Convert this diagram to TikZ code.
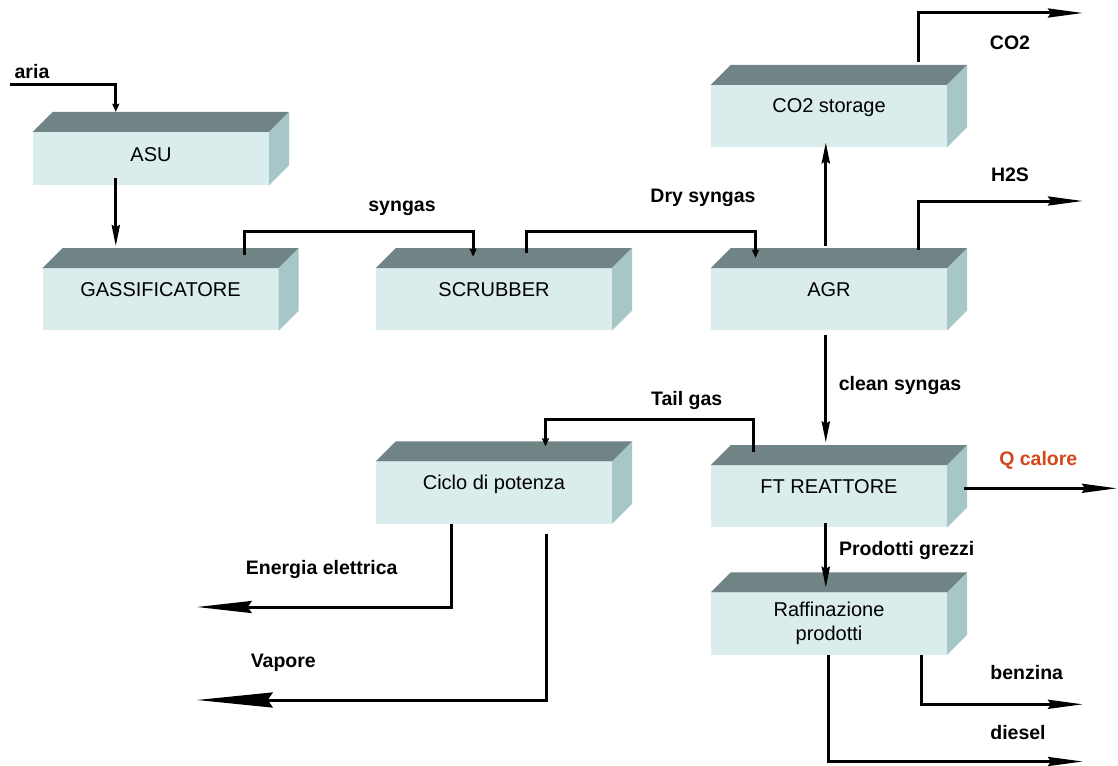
\documentclass[tikz,border=0pt]{standalone}
\usepackage{fontspec}
\setmainfont{Liberation Sans}
\usetikzlibrary{arrows.meta}

\definecolor{fronte}{HTML}{DAECEC}
\definecolor{tetto}{HTML}{708486}
\definecolor{fianco}{HTML}{A6C6C8}
\definecolor{calore}{HTML}{D4471A}

\tikzset{
    bloccobase/.style={rectangle, fill=fronte, minimum width=236pt, minimum height=62pt,
        inner sep=0pt, font=\fontsize{20}{24}\selectfont},
    blocco/.style={bloccobase, text height=14pt, text depth=20pt},
    etich/.style={font=\fontsize{19.5}{23}\selectfont\bfseries},
    flusso/.style={line width=3pt},
    tippiccola/.style={flusso, -{Stealth[length=8pt, width=7pt, inset=1pt]}},
    tipmedia/.style={flusso, -{Stealth[length=21pt, width=8pt, inset=2pt]}},
    tipuscita/.style={flusso, -{Stealth[length=35pt, width=9pt, inset=3pt]}},
    tipsx1/.style={flusso, -{Stealth[length=55pt, width=12pt, inset=4pt]}},
    tipsx2/.style={flusso, -{Stealth[length=76pt, width=15pt, inset=5pt]}}
}

\begin{document}
\begin{tikzpicture}[x=1pt, y=-1pt]
        \path[use as bounding box, fill=white] (0,0) rectangle (1118,765);

        % Blocchi
        \node[blocco, minimum height=53pt, text depth=9pt] (asu) at (151,158.5) {ASU};
        \node[blocco] (gass) at (160.5,299.4) {GASSIFICATORE};
        \node[blocco] (scrub) at (494,299.2) {SCRUBBER};
        \node[blocco] (agr) at (829,299.3) {AGR};
        \node[blocco] (co2st) at (829,116) {CO2 storage};
        \node[blocco] (ciclo) at (494,492.5) {Ciclo di potenza};
        \node[blocco] (ft) at (829,496.3) {FT REATTORE};
        \node[bloccobase, align=center] (raff) at (829,623.5) {\raisebox{-3pt}{Raffinazione}\\\raisebox{-3pt}{prodotti}};

        \foreach \b in {asu,gass,scrub,agr,co2st,ciclo,ft,raff}{
            \fill[tetto] (\b.north west) -- ++(20,-20) -- ([shift={(20,-20)}]\b.north east) -- (\b.north east) -- cycle;
            \fill[fianco] (\b.north east) -- ++(20,-20) -- ([shift={(20,-20)}]\b.south east) -- (\b.south east) -- cycle;
        }

        % Estremi liberi
        \coordinate (ariain) at (10,85);
        \coordinate (co2out) at (1083,13);
        \coordinate (h2sout) at (1083,201);
        \coordinate (qout) at (1117,488.3);
        \coordinate (benzout) at (1083,704.3);
        \coordinate (dieselout) at (1083,761.5);
        \coordinate (eeout) at (196.7,607);
        \coordinate (vapout) at (196.7,700);

        % Flussi
        \draw[tippiccola] (ariain) -| ([shift={(83,-20)}]asu.north west);
        \draw[tipmedia] ([shift={(83,-7)}]asu.south west) -- ([shift={(73.5,-22)}]gass.north west);
        \draw[tippiccola] ([shift={(202.5,-13)}]gass.north west) -- ++(0,-24) -| ([shift={(97.3,-11.3)}]scrub.north west);
        \draw[tippiccola] ([shift={(150.7,-15.3)}]scrub.north west) -- ++(0,-21.6) -| ([shift={(44.7,-10.3)}]agr.north west);
        \draw[tipmedia] ([shift={(115,-22)}]agr.north west) -- ([shift={(115,-5)}]co2st.south west);
        \draw[tipuscita] ([shift={(207.3,-23)}]co2st.north west) |- (co2out);
        \draw[tipuscita] ([shift={(207.3,-18)}]agr.north west) |- (h2sout);
        \draw[tipmedia] ([shift={(115,4)}]agr.south west) -- ([shift={(115,-22.5)}]ft.north west);
        \draw[tippiccola] ([shift={(42.3,-13.6)}]ft.north west) -- ++(0,-32.4) -| ([shift={(169.7,-15)}]ciclo.north west);
        \draw[tipuscita] ([shift={(17,-8)}]ft.east) -- (qout);
        \draw[tipmedia] ([shift={(115,-4.3)}]ft.south west) -- ([shift={(115,-4.5)}]raff.north west);
        \draw[tipuscita] ([shift={(210.7,0.7)}]raff.south west) |- (benzout);
        \draw[tipuscita] ([shift={(117.3,0.7)}]raff.south west) |- (dieselout);
        \draw[tipsx1] ([shift={(75.7,0)}]ciclo.south west) |- (eeout);
        \draw[tipsx2] ([shift={(170.7,10)}]ciclo.south west) |- (vapout);

        % Etichette
        \node[etich] (laria) at (32,71.7) {aria};
        \node[etich] (lsyngas) at (402,208) {syngas};
        \node[etich] (ldry) at (703,198) {Dry syngas};
        \node[etich] (lco2) at (1010,43) {CO2};
        \node[etich] (lh2s) at (1010,175) {H2S};
        \node[etich] (lclean) at (900,385.7) {clean syngas};
        \node[etich] (ltail) at (686.7,400.7) {Tail gas};
        \node[etich, text=calore] (lq) at (1038.3,460.7) {Q calore};
        \node[etich] (lprod) at (906.7,550.7) {Prodotti grezzi};
        \node[etich] (lbenz) at (1026.7,672.7) {benzina};
        \node[etich] (ldiesel) at (1018,733) {diesel};
        \node[etich] (lee) at (321.7,569.3) {Energia elettrica};
        \node[etich] (lvap) at (283.3,663.3) {Vapore};

    \end{tikzpicture}
\end{document}
